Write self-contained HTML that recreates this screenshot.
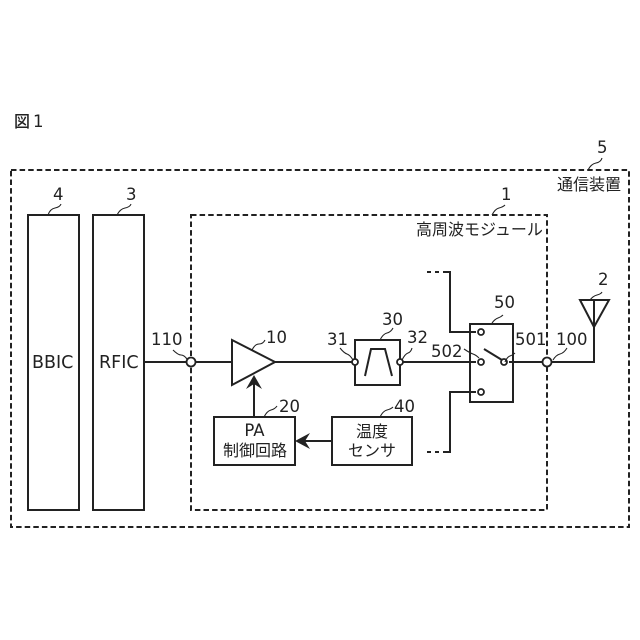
<!DOCTYPE html>
<html><head><meta charset="utf-8"><style>
html,body{margin:0;padding:0;background:#fff}
svg{display:block}
text{font-family:"DejaVu Sans","Noto Sans CJK JP",sans-serif;fill:#222;font-size:16.5px}
.c{font-family:"Noto Sans CJK JP",sans-serif;font-size:16px}
.b{font-size:17.5px}
</style></head><body>
<svg width="640" height="640" viewBox="0 0 640 640" xmlns="http://www.w3.org/2000/svg">
<g fill="none" stroke="#222">
<rect x="11" y="170" width="618" height="357" stroke-width="2" stroke-dasharray="5.500 3.100"/>
<rect x="191" y="215" width="356" height="295" stroke-width="2" stroke-dasharray="5.500 3.100"/>
<g stroke-width="2">
<rect x="28" y="215" width="51" height="295"/>
<rect x="93" y="215" width="51" height="295"/>
<path d="M144 362H232M275 362H355M400 362H476M509 362H594V300"/>
<path d="M232 340V385L275 362Z" fill="#fff"/>
<rect x="355" y="340" width="45" height="45"/>
<path d="M365 376L371 349H385L392 376"/>
<rect x="470" y="324" width="43" height="78"/>
<path d="M427 272H431M435 272H439M443 272H450V332H476M476 392H450V452H443M439 452H435M431 452H427"/>
<path d="M484 349L502 360"/>
<path d="M580 300H609L594 327Z"/>
<rect x="214" y="417" width="81" height="48"/>
<rect x="332" y="417" width="80" height="48"/>
<path d="M254 417V382M332 441H304"/>
</g>
<path d="M254 375L246 389L254 384L262 389Z" fill="#222" stroke="none"/>
<path d="M295 441L310 433L305 441L310 449Z" fill="#222" stroke="none"/>
<g stroke-width="1.800" fill="#fff">
<circle cx="191" cy="362" r="4.500"/><circle cx="547" cy="362" r="4.500"/>
<circle cx="355" cy="362" r="3"/><circle cx="400" cy="362" r="3"/>
<circle cx="481" cy="332" r="3"/><circle cx="481" cy="362" r="3"/>
<circle cx="504" cy="362" r="3"/><circle cx="481" cy="392" r="3"/>
</g>
<g stroke-width="1.100">
<path d="M48 215Q50 209 55 208T61 204"/>
<path d="M117 215Q120 209 125 208T131 204"/>
<path d="M492 215Q495 209 499 208T505 205"/>
<path d="M588 170Q591 164 596 163T602 158"/>
<path d="M252 350Q255 344 259 344T265 340"/>
<path d="M264 417Q267 411 271 410T277 406"/>
<path d="M173 350Q178 355 181 355T187 359"/>
<path d="M340 348Q344 353 347 354T353 360"/>
<path d="M402 360Q405 354 408 353T412 348"/>
<path d="M380 340Q383 334 387 333T393 328"/>
<path d="M492 323Q495 319 498 318T503 315"/>
<path d="M464 349Q470 353 473 354T479 358"/>
<path d="M505 362Q507 357 510 356T515 353"/>
<path d="M553 360Q556 355 560 354T567 348"/>
<path d="M380 417Q383 411 387 410T393 407"/>
<path d="M590 300Q593 296 597 295T602 292"/>
</g>
</g>
<text x="14" y="127" class="c" style="font-weight:500">図</text><text x="33" y="127">1</text>
<text x="53" y="200">4</text><text x="126" y="200">3</text>
<text x="501" y="200">1</text><text x="597" y="153">5</text>
<text x="598" y="285">2</text><text x="494" y="308">50</text>
<text x="382" y="325">30</text><text x="407" y="343">32</text>
<text x="327" y="345">31</text><text x="266" y="343">10</text>
<text x="279" y="412">20</text><text x="394" y="412">40</text>
<text x="151" y="345">110</text><text x="556" y="345">100</text>
<text x="431" y="357">502</text><text x="515" y="345">501</text>
<text x="32" y="368" class="b">BBIC</text><text x="99" y="368" class="b">RFIC</text>
<text x="557" y="190" class="c">通信装置</text>
<text x="416" y="235" class="c">高周波モジュール</text>
<text x="254.500" y="436" text-anchor="middle">PA</text>
<text x="255" y="456" text-anchor="middle" class="c">制御回路</text>
<text x="372" y="437" text-anchor="middle" class="c">温度</text>
<text x="372" y="456" text-anchor="middle" class="c">センサ</text>
</svg>
</body></html>
